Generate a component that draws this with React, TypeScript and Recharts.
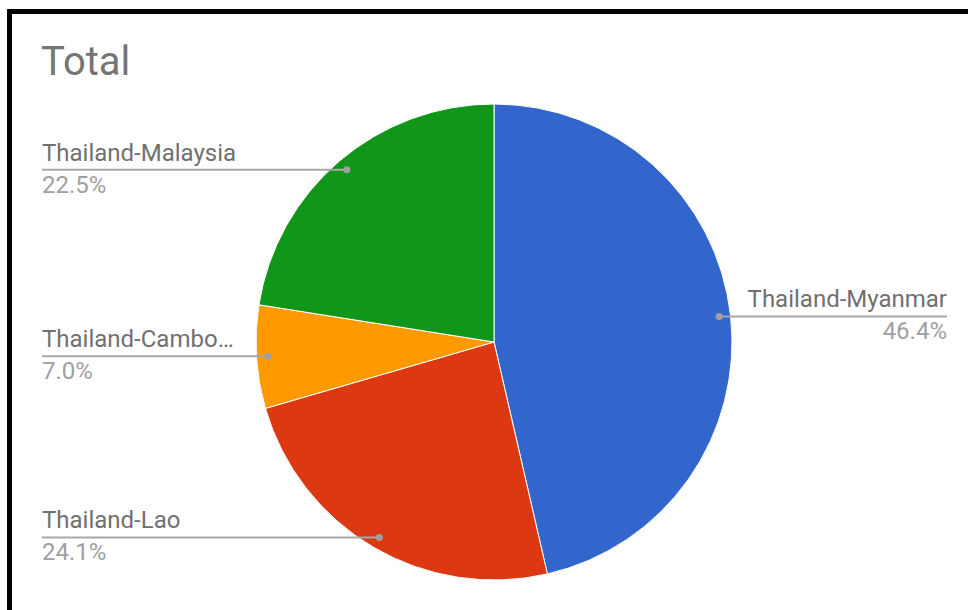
import React from "react";
import { PieChart, Pie, Cell } from "recharts";

const categories = ["Thailand-Myanmar", "Thailand-Lao", "Thailand-Cambodia", "Thailand-Malaysia"];
const displayLabels = ["Thailand-Myanmar", "Thailand-Lao", "Thailand-Cambo…", "Thailand-Malaysia"];
const values = [46.4, 24.1, 7.0, 22.5];
const colors = ["#3366cc", "#dc3912", "#ff9900", "#109618"];

const data = categories.map((name, i) => ({ name, value: values[i], label: displayLabels[i] }));

const RAD = Math.PI / 180;
const FONT = "Roboto, 'Noto Sans', sans-serif";

const renderLabel = (props: any) => {
  const { cx, cy, midAngle, outerRadius, index, percent } = props;
  const r = outerRadius * 0.952;
  const x = cx + r * Math.cos(-midAngle * RAD);
  const y = cy + r * Math.sin(-midAngle * RAD);
  const right = x > cx;
  const endX = right ? 947 : 42;
  const anchor = right ? "end" : "start";
  const pct = (percent * 100).toFixed(1) + "%";
  return (
    <g key={"lbl" + index}>
      <line x1={x} y1={y} x2={endX} y2={y} stroke="#a8a8a8" strokeWidth={2} />
      <circle cx={x} cy={y} r={3.5} fill="#a0a0a0" />
      <text x={endX} y={y - 9} textAnchor={anchor} fontFamily={FONT} fontSize={24} fill="#707070">
        {data[index].label}
      </text>
      <text x={endX} y={y + 23} textAnchor={anchor} fontFamily={FONT} fontSize={24} fill="#a0a0a0">
        {pct}
      </text>
    </g>
  );
};

export default function App() {
  return (
    <div style={{ position: "absolute", left: 0, top: 0, width: 968, height: 610, background: "#fff", overflow: "hidden" }}>
      <div
        style={{
          position: "absolute",
          left: 7,
          top: 9,
          width: 980,
          height: 620,
          borderTop: "5px solid #000",
          borderLeft: "5px solid #000",
          boxSizing: "border-box",
        }}
      />
      <div
        style={{
          position: "absolute",
          left: 41,
          top: 38,
          fontFamily: FONT,
          fontSize: 40,
          color: "#757575",
          lineHeight: "48px",
        }}
      >
        Total
      </div>
      <div style={{ position: "absolute", left: 0, top: 0 }}>
        <PieChart width={968} height={610}>
          <Pie
            data={data}
            dataKey="value"
            nameKey="name"
            cx={489}
            cy={337}
            outerRadius={238}
            startAngle={90}
            endAngle={-270}
            stroke="#ffffff"
            strokeWidth={1}
            label={renderLabel}
            labelLine={false}
            isAnimationActive={false}
          >
            {data.map((d, i) => (
              <Cell key={d.name} fill={colors[i]} />
            ))}
          </Pie>
        </PieChart>
      </div>
    </div>
  );
}
